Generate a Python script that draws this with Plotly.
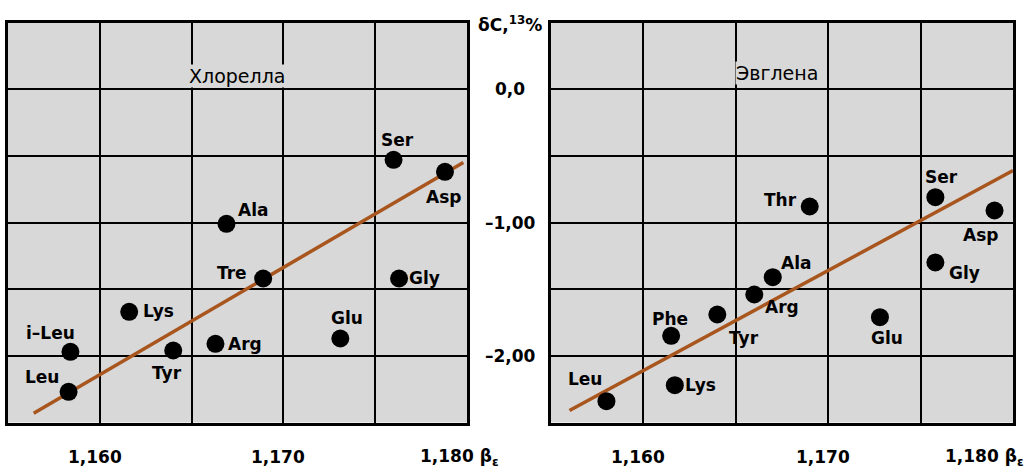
import plotly.graph_objects as go

W, H = 1027, 470

# ---------------- data ----------------
chl_acids = ["Ser", "Asp", "Ala", "Tre", "Gly", "Lys", "i–Leu", "Tyr", "Arg", "Glu", "Leu"]
chl_beta = [1.1760, 1.1788, 1.1669, 1.1689, 1.1763, 1.1616, 1.1584, 1.1640, 1.1663, 1.1731, 1.1583]
chl_delta = [-0.53, -0.62, -1.01, -1.42, -1.42, -1.67, -1.97, -1.96, -1.91, -1.87, -2.27]
chl_fit_beta = [1.1564, 1.1798]
chl_fit_delta = [-2.43, -0.55]

eug_acids = ["Thr", "Ser", "Asp", "Ala", "Gly", "Arg", "Tyr", "Phe", "Glu", "Lys", "Leu"]
eug_beta = [1.1690, 1.1758, 1.1790, 1.1670, 1.1758, 1.1660, 1.1640, 1.1615, 1.1728, 1.1617, 1.1580]
eug_delta = [-0.88, -0.81, -0.91, -1.41, -1.30, -1.54, -1.69, -1.85, -1.71, -2.22, -2.34]
eug_fit_beta = [1.1560, 1.1800]
eug_fit_delta = [-2.41, -0.61]

panel_titles = ["Хлорелла", "Эвглена"]
x_tick_vals = [1.160, 1.170, 1.180]
x_tick_text = ["1,160", "1,170", "1,180 β<sub>ε</sub>"]
y_tick_vals = [0.0, -1.0, -2.0]
y_tick_text = ["0,0", "–1,00", "–2,00"]
y_title = "δC,<sup>13</sup>%"

x_grid = [1.160, 1.165, 1.170, 1.175]
y_grid = [-2.0, -1.5, -1.0, -0.5, 0.0]

# ---------------- label placement (style, pixels) ----------------
chl_anchor = ["center", "center", "left", "right", "left", "left", "center", "center", "left", "center", "right"]
chl_dx = [4, -1, 10, -14, 8, 12, -20, -6, 11, 7, -8]
chl_dy = [20, -25, 14, 6, 1, 1, 19, -22, 0, 21, 15]
eug_anchor = ["right", "center", "center", "left", "left", "left", "left", "center", "center", "left", "right"]
eug_dx = [-11, 6, -14, 6, 12, 9, 10, -1, 7, 8, -2]
eug_dy = [7, 20, -24, 14, -10, -12, -23, 17, -21, 0, 22]

BG = "#d8d8d8"
LINE_C = "#a8561e"
FONT = "DejaVu Sans"

fig = go.Figure()

panels = [
    (chl_beta, chl_delta, chl_fit_beta, chl_fit_delta, chl_acids, chl_anchor, chl_dx, chl_dy, "x", "y"),
    (eug_beta, eug_delta, eug_fit_beta, eug_fit_delta, eug_acids, eug_anchor, eug_dx, eug_dy, "x2", "y2"),
]

label_font = dict(family=FONT, size=17, color="black", weight="bold")
tick_font = dict(family=FONT, size=17, color="black", weight="bold")

annotations = []
for bx, dy_, fx, fy, names, anc, ddx, ddy, xa, ya in panels:
    fig.add_trace(go.Scatter(x=fx, y=fy, mode="lines", xaxis=xa, yaxis=ya,
                             line=dict(color=LINE_C, width=3.5), showlegend=False,
                             hoverinfo="skip"))
    fig.add_trace(go.Scatter(x=bx, y=dy_, mode="markers", xaxis=xa, yaxis=ya,
                             marker=dict(color="black", size=18), showlegend=False,
                             text=names))
    for xv, yv, n, a, sx, sy in zip(bx, dy_, names, anc, ddx, ddy):
        annotations.append(dict(x=xv, y=yv, xref=xa, yref=ya, text=n, showarrow=False,
                                xanchor=a, yanchor="middle", xshift=sx, yshift=sy,
                                font=label_font))

# panel titles
title_pos = [(237, 76), (777, 73)]
for t, (px, py) in zip(panel_titles, title_pos):
    annotations.append(dict(x=px / W, y=1 - py / H, xref="paper", yref="paper", text=t,
                            showarrow=False, xanchor="center", yanchor="middle",
                            bgcolor=BG, borderpad=0,
                            font=dict(family=FONT, size=19, color="black")))

# x tick labels
last_shift = {"x": -49, "x2": -70}
for xa in ["x", "x2"]:
    for i, (v, t) in enumerate(zip(x_tick_vals, x_tick_text)):
        last = i == len(x_tick_vals) - 1
        annotations.append(dict(x=v, y=1 - 457 / H, xref=xa, yref="paper", text=t,
                                showarrow=False, xanchor="left" if last else "center",
                                yanchor="middle", xshift=last_shift[xa] if last else -5,
                                font=tick_font))

# y tick labels (between the panels)
for v, t in zip(y_tick_vals, y_tick_text):
    annotations.append(dict(x=510 / W, y=v, xref="paper", yref="y2", text=t,
                            showarrow=False, xanchor="center", yanchor="middle",
                            font=tick_font))
annotations.append(dict(x=510 / W, y=1 - 24 / H, xref="paper", yref="paper", text=y_title,
                        showarrow=False, xanchor="center", yanchor="middle",
                        font=tick_font))

ax_common = dict(showgrid=True, gridcolor="black", gridwidth=2, showline=True, mirror=True,
                 linecolor="black", linewidth=2.5, ticks="", showticklabels=False,
                 zeroline=False, fixedrange=True)
ydom = [1 - 422.5 / H, 1 - 22.5 / H]

fig.update_layout(
    width=W, height=H,
    margin=dict(l=0, r=0, t=0, b=0),
    paper_bgcolor="white", plot_bgcolor=BG,
    xaxis=dict(domain=[8 / W, 467 / W], range=[1.155, 1.180], tickvals=x_grid, anchor="y", **ax_common),
    yaxis=dict(domain=ydom, range=[-2.5, 0.5], tickvals=y_grid, anchor="x", **ax_common),
    xaxis2=dict(domain=[551 / W, 1013 / W], range=[1.155, 1.180], tickvals=x_grid, anchor="y2", **ax_common),
    yaxis2=dict(domain=ydom, range=[-2.5, 0.5], tickvals=y_grid, anchor="x2", **ax_common),
    annotations=annotations,
    font=dict(family=FONT),
)

fig.write_html(
    "out.html",
    config={"displayModeBar": False},
    post_script="document.body.style.margin='0';document.body.style.overflow='hidden';",
)
